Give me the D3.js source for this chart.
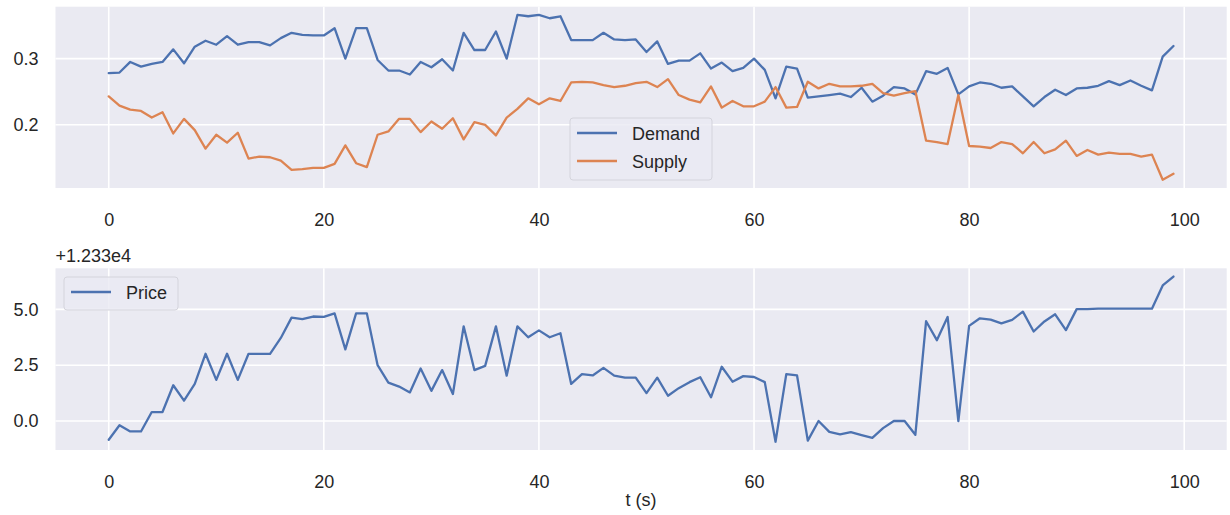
<!DOCTYPE html>
<html>
<head>
<meta charset="utf-8">
<script src="https://cdn.jsdelivr.net/npm/d3@7"></script>
<style>
    body { margin: 0; background: #ffffff; }
    svg { display: block; font-family: "Liberation Sans", Arial, Helvetica, sans-serif; }
</style>
</head>
<body>
<svg id="chart" width="1230" height="515"></svg>
<script>
// sample index (t in seconds)
const time = d3.range(100);

const demand = [
    0.278, 0.279, 0.295, 0.288, 0.292, 0.295, 0.314, 0.293, 0.318, 0.327,
    0.321, 0.334, 0.321, 0.325, 0.325, 0.320, 0.331, 0.339, 0.336, 0.335,
    0.335, 0.346, 0.300, 0.346, 0.346, 0.298, 0.282, 0.282, 0.276, 0.295,
    0.287, 0.299, 0.282, 0.339, 0.313, 0.313, 0.341, 0.300, 0.366, 0.364,
    0.366, 0.361, 0.364, 0.328, 0.328, 0.328, 0.339, 0.329, 0.328, 0.329,
    0.310, 0.326, 0.292, 0.297, 0.297, 0.308, 0.285, 0.294, 0.281, 0.286,
    0.300, 0.283, 0.240, 0.288, 0.285, 0.241, 0.243, 0.245, 0.247, 0.242,
    0.256, 0.235, 0.244, 0.257, 0.255, 0.246, 0.281, 0.277, 0.286, 0.246,
    0.258, 0.264, 0.262, 0.256, 0.258, 0.243, 0.228, 0.242, 0.253, 0.245,
    0.255, 0.256, 0.259, 0.266, 0.260, 0.267, 0.259, 0.252, 0.303, 0.319
];

const supply = [
    0.243, 0.229, 0.223, 0.221, 0.211, 0.219, 0.187, 0.209, 0.192, 0.164,
    0.185, 0.173, 0.188, 0.149, 0.152, 0.151, 0.146, 0.132, 0.133, 0.135,
    0.135, 0.141, 0.169, 0.142, 0.136, 0.185, 0.190, 0.209, 0.209, 0.189,
    0.205, 0.194, 0.210, 0.178, 0.204, 0.200, 0.184, 0.211, 0.224, 0.240,
    0.231, 0.240, 0.236, 0.264, 0.265, 0.264, 0.260, 0.257, 0.259, 0.263,
    0.265, 0.257, 0.269, 0.245, 0.238, 0.234, 0.258, 0.226, 0.236, 0.228,
    0.228, 0.235, 0.257, 0.226, 0.227, 0.265, 0.255, 0.262, 0.258, 0.258,
    0.259, 0.262, 0.248, 0.244, 0.248, 0.251, 0.176, 0.174, 0.171, 0.245,
    0.168, 0.167, 0.165, 0.174, 0.171, 0.157, 0.174, 0.157, 0.163, 0.176,
    0.153, 0.162, 0.155, 0.158, 0.156, 0.156, 0.152, 0.155, 0.117, 0.126
];

// price shown relative to the axis offset (+1.233e4)
const priceOffset = 12330;
const priceOffsetLabel = "+1.233e4";
const price = [
    -0.84, -0.19, -0.47, -0.47, 0.40, 0.40, 1.60, 0.91, 1.66, 3.01,
    1.84, 3.01, 1.84, 3.01, 3.01, 3.01, 3.72, 4.63, 4.56, 4.68,
    4.66, 4.82, 3.21, 4.82, 4.82, 2.50, 1.72, 1.54, 1.28, 2.35,
    1.35, 2.28, 1.21, 4.24, 2.28, 2.47, 4.24, 2.03, 4.24, 3.75,
    4.06, 3.75, 3.93, 1.66, 2.10, 2.04, 2.38, 2.03, 1.94, 1.94,
    1.25, 1.94, 1.13, 1.47, 1.74, 1.96, 1.06, 2.43, 1.76, 2.01,
    1.97, 1.74, -0.93, 2.10, 2.04, -0.88, 0.00, -0.49, -0.60, -0.50,
    -0.63, -0.76, -0.32, 0.00, 0.00, -0.62, 4.47, 3.62, 4.66, -0.01,
    4.26, 4.60, 4.54, 4.37, 4.53, 4.90, 4.01, 4.46, 4.78, 4.07,
    5.01, 5.01, 5.03, 5.03, 5.03, 5.03, 5.03, 5.03, 6.07, 6.47
];

const xTicks = [0, 20, 40, 60, 80, 100];
const topYTicks = [0.2, 0.3];
const bottomYTicks = [0.0, 2.5, 5.0];

const BLUE = "#4c72b0";
const ORANGE = "#dd8452";
const TEXT = "#262626";

const svg = d3.select("#chart");
const left = 55.5, right = 1226.7;

// 5% margins like matplotlib autoscale
function padded(extent) {
    const m = (extent[1] - extent[0]) * 0.05;
    return [extent[0] - m, extent[1] + m];
}

const x = d3.scaleLinear()
    .domain(padded(d3.extent(time)))
    .range([left, right]);

function drawPanel(top, bottom, yDomain, yTicks, yFormat, series) {
    const y = d3.scaleLinear().domain(yDomain).range([bottom, top]);
    const g = svg.append("g");

    g.append("rect")
        .attr("x", left).attr("y", top)
        .attr("width", right - left).attr("height", bottom - top)
        .attr("fill", "#eaeaf2");

    // grid
    g.selectAll(".vgrid").data(xTicks).enter().append("line")
        .attr("x1", d => x(d)).attr("x2", d => x(d))
        .attr("y1", top).attr("y2", bottom)
        .attr("stroke", "#ffffff").attr("stroke-width", 1.6);
    g.selectAll(".hgrid").data(yTicks).enter().append("line")
        .attr("x1", left).attr("x2", right)
        .attr("y1", d => y(d)).attr("y2", d => y(d))
        .attr("stroke", "#ffffff").attr("stroke-width", 1.6);

    // axes (tick lines hidden, labels only)
    const xAxis = g.append("g")
        .attr("transform", `translate(0,${bottom})`)
        .call(d3.axisBottom(x).tickValues(xTicks).tickSize(0).tickPadding(25));
    xAxis.select(".domain").remove();
    xAxis.selectAll("text").attr("fill", TEXT).attr("font-size", "18px")
        .attr("font-family", "Liberation Sans, Arial, sans-serif");

    const yAxis = g.append("g")
        .attr("transform", `translate(${left},0)`)
        .call(d3.axisLeft(y).tickValues(yTicks).tickFormat(yFormat).tickSize(0).tickPadding(17));
    yAxis.select(".domain").remove();
    yAxis.selectAll("text").attr("fill", TEXT).attr("font-size", "18px")
        .attr("font-family", "Liberation Sans, Arial, sans-serif");

    const line = d3.line()
        .x((d, i) => x(time[i]))
        .y(d => y(d));

    series.forEach(s => {
        g.append("path")
            .datum(s.values)
            .attr("fill", "none")
            .attr("stroke", s.color)
            .attr("stroke-width", 2.3)
            .attr("stroke-linejoin", "round")
            .attr("stroke-linecap", "round")
            .attr("d", line);
    });
    return g;
}

function drawLegend(g, bx, by, bw, bh, items) {
    g.append("rect")
        .attr("x", bx).attr("y", by)
        .attr("width", bw).attr("height", bh)
        .attr("rx", 3)
        .attr("fill", "#eaeaf2").attr("fill-opacity", 0.8)
        .attr("stroke", "#d4d4dc").attr("stroke-width", 1);
    items.forEach((it, i) => {
        const cy = by + 15 + i * 28;
        g.append("line")
            .attr("x1", bx + 7).attr("x2", bx + 47)
            .attr("y1", cy).attr("y2", cy)
            .attr("stroke", it.color).attr("stroke-width", 2.3);
        g.append("text")
            .attr("x", bx + 62).attr("y", cy + 6.5)
            .attr("fill", TEXT).attr("font-size", "18px")
            .text(it.label);
    });
}

// top panel: demand & supply
const topG = drawPanel(6.7, 188, padded(d3.extent(demand.concat(supply))), topYTicks, d3.format(".1f"), [
    { values: demand, color: BLUE },
    { values: supply, color: ORANGE }
]);
drawLegend(topG, 570, 118, 142, 62, [
    { label: "Demand", color: BLUE },
    { label: "Supply", color: ORANGE }
]);

// bottom panel: price
const botG = drawPanel(268.3, 450, padded(d3.extent(price)), bottomYTicks, d3.format(".1f"), [
    { values: price, color: BLUE }
]);
drawLegend(botG, 64, 277, 114, 33, [
    { label: "Price", color: BLUE }
]);

botG.append("text")
    .attr("x", left).attr("y", 262)
    .attr("fill", TEXT).attr("font-size", "18px")
    .text(priceOffsetLabel);

svg.append("text")
    .attr("x", (left + right) / 2).attr("y", 506)
    .attr("text-anchor", "middle")
    .attr("fill", TEXT).attr("font-size", "18px")
    .text("t (s)");
</script>
</body>
</html>
